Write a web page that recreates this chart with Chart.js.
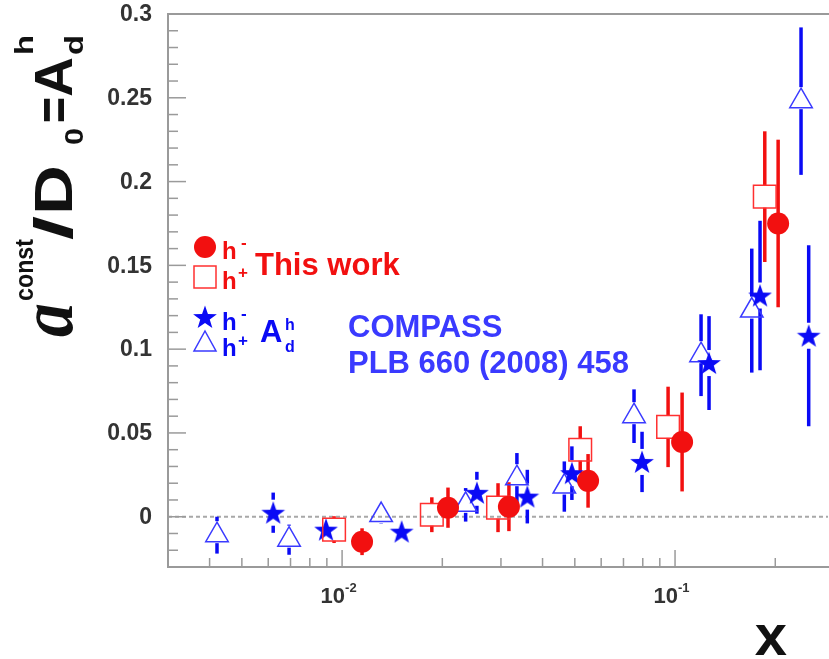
<!DOCTYPE html>
<html>
<head>
<meta charset="utf-8">
<script src="https://cdn.jsdelivr.net/npm/chart.js@4.4.0/dist/chart.umd.min.js"></script>
<style>
  html, body { margin: 0; padding: 0; background: #fff; overflow: hidden; }
  #wrap { width: 829px; height: 659px; }
</style>
</head>
<body>
<div id="wrap"><canvas id="chart" width="829" height="659"></canvas></div>
<script>
// This work, h- (filled red circles)
const workMinusX   = [0.01148, 0.0208, 0.0317, 0.0548, 0.105, 0.204];
const workMinusY   = [-0.0149, 0.0054, 0.0060, 0.0214, 0.0446, 0.175];
const workMinusErr = [0.008, 0.012, 0.0146, 0.016, 0.0295, 0.050];

// This work, h+ (open red squares)
const workPlusX   = [0.00946, 0.0186, 0.0294, 0.0519, 0.0953, 0.186];
const workPlusY   = [-0.0077, 0.0012, 0.0054, 0.040, 0.0536, 0.191];
const workPlusErr = [0.008, 0.0104, 0.0146, 0.014, 0.024, 0.039];

// COMPASS A_d^h, h- (blue stars)
const compMinusX   = [0.00621, 0.00895, 0.0151, 0.0254, 0.036, 0.049, 0.0796, 0.1265, 0.180, 0.252];
const compMinusY   = [0.0024, -0.0077, -0.0089, 0.0143, 0.012, 0.026, 0.0327, 0.0917, 0.132, 0.108];
const compMinusErr = [0.012, 0.006, 0.006, 0.0125, 0.016, 0.016, 0.018, 0.028, 0.0446, 0.054];

// COMPASS A_d^h, h+ (open blue triangles)
const compPlusX   = [0.00421, 0.00693, 0.0131, 0.0235, 0.0335, 0.0465, 0.0753, 0.1197, 0.170, 0.239];
const compPlusY   = [-0.011, -0.0137, 0.0010, 0.0071, 0.023, 0.018, 0.060, 0.0964, 0.123, 0.248];
const compPlusErr = [0.011, 0.009, 0.005, 0.010, 0.015, 0.015, 0.016, 0.0244, 0.037, 0.044];

// axis ticks
const yTicks = [0, 0.05, 0.1, 0.15, 0.2, 0.25, 0.3];
const yTickLabels = ['0', '0.05', '0.1', '0.15', '0.2', '0.25', '0.3'];
const xTicks = [0.01, 0.1];
const xTickLabels = [['10', '-2'], ['10', '-1']];

const RED = '#f21010';
const BLUE = '#0a0af5';
const BLUE_LIGHT = '#3a3aff';
const SANS = '"Liberation Sans", Arial, sans-serif';

function pts(xs, ys) {
    return xs.map((x, i) => ({ x: x, y: ys[i] }));
}

// filled five point star used as point style
function makeStar(size, color) {
    const c = document.createElement('canvas');
    c.width = size; c.height = size;
    const g = c.getContext('2d');
    const R = size / 2 - 0.5, r = R * 0.4, cx = size / 2, cy = size / 2 + 1;
    g.beginPath();
    for (let k = 0; k < 10; k++) {
        const rad = (k % 2 === 0) ? R : r;
        const a = -Math.PI / 2 + k * Math.PI / 5;
        g.lineTo(cx + rad * Math.cos(a), cy + rad * Math.sin(a));
    }
    g.closePath();
    g.fillStyle = color;
    g.fill();
    return c;
}
const starImg = makeStar(26, BLUE);

function line(ctx, x1, y1, x2, y2) {
    ctx.beginPath(); ctx.moveTo(x1, y1); ctx.lineTo(x2, y2); ctx.stroke();
}

const framePlugin = {
    id: 'frame',
    beforeDatasetsDraw(chart) {
        const { ctx, chartArea: a, scales: { x, y } } = chart;
        ctx.save();
        // dashed zero line
        ctx.strokeStyle = '#a8a8a8';
        ctx.lineWidth = 2;
        ctx.setLineDash([4, 3]);
        const y0 = y.getPixelForValue(0);
        line(ctx, a.left, y0, a.right, y0);
        ctx.setLineDash([]);

        // frame and inner ticks
        ctx.strokeStyle = '#9a9a9a';
        ctx.lineWidth = 2;
        ctx.beginPath();
        ctx.moveTo(a.right + 2, a.top);
        ctx.lineTo(a.left, a.top);
        ctx.lineTo(a.left, a.bottom);
        ctx.lineTo(a.right + 2, a.bottom);
        ctx.stroke();
        ctx.lineWidth = 1.5;
        for (let k = -3; k <= 30; k++) {
            const py = y.getPixelForValue(k / 100);
            line(ctx, a.left, py, a.left + (k % 5 === 0 ? 18 : 10), py);
        }
        for (let d = -3; d <= -1; d++) {
            for (let m = 1; m <= 9; m++) {
                const v = m * Math.pow(10, d);
                if (v < x.min || v > x.max) continue;
                const px = x.getPixelForValue(v);
                line(ctx, px, a.bottom, px, a.bottom - (m === 1 ? 17 : 9));
            }
        }

        // error bars with a gap around each marker
        chart.data.datasets.forEach((ds, i) => {
            const meta = chart.getDatasetMeta(i);
            ctx.strokeStyle = ds.errColor;
            ctx.lineWidth = 3.5;
            meta.data.forEach((pt, j) => {
                const v = ds.data[j].y, e = ds.err[j];
                const top = y.getPixelForValue(v + e);
                const bot = y.getPixelForValue(v - e);
                if (pt.y - ds.gapUp > top) line(ctx, pt.x, top, pt.x, pt.y - ds.gapUp);
                if (pt.y + ds.gapDown < bot) line(ctx, pt.x, pt.y + ds.gapDown, pt.x, bot);
            });
        });
        ctx.restore();
    },
    afterDraw(chart) {
        const { ctx, scales: { x, y } } = chart;
        ctx.save();
        // y tick labels
        ctx.fillStyle = '#333';
        ctx.font = 'bold 23px ' + SANS;
        ctx.textAlign = 'right';
        ctx.textBaseline = 'middle';
        yTicks.forEach((v, i) => ctx.fillText(yTickLabels[i], 152, y.getPixelForValue(v) + 1));
        // x tick labels 10^n
        ctx.textBaseline = 'alphabetic';
        xTicks.forEach((v, i) => {
            const px = x.getPixelForValue(v) + 3;
            ctx.font = 'bold 22px ' + SANS;
            ctx.textAlign = 'right';
            ctx.fillText(xTickLabels[i][0], px, 603);
            ctx.font = 'bold 13px ' + SANS;
            ctx.textAlign = 'left';
            ctx.fillText(xTickLabels[i][1], px, 592);
        });
        // x title
        ctx.fillStyle = '#111';
        ctx.font = 'bold 58px ' + SANS;
        ctx.textAlign = 'center';
        ctx.fillText('x', 771, 655);

        // y title: a^const/D_0=A_d^h, rotated
        ctx.translate(72, 337);
        ctx.rotate(-Math.PI / 2);
        ctx.textAlign = 'left';
        const parts = [
            { t: 'a', f: 'bold italic 76px "Liberation Serif", serif', u: 0, v: 0, w: 34 },
            { t: 'const', f: 'bold 25px ' + SANS, u: 36, v: -39, w: 62 },
            { t: '/', f: 'bold 54px ' + SANS, u: 97, v: 0, w: 24 },
            { t: 'D', f: 'bold 54px ' + SANS, u: 122, v: 0, w: 50 },
            { t: '0', f: 'bold 25px ' + SANS, u: 192, v: 11, w: 17 },
            { t: '=', f: 'bold 54px ' + SANS, u: 214, v: 0, w: 26 },
            { t: 'A', f: 'bold 54px ' + SANS, u: 240, v: 0, w: 40 },
            { t: 'h', f: 'bold 25px ' + SANS, u: 282, v: -39, w: 20 },
            { t: 'd', f: 'bold 25px ' + SANS, u: 282, v: 11, w: 20 }
        ];
        parts.forEach(p => {
            ctx.font = p.f;
            const mw = ctx.measureText(p.t).width;
            ctx.save();
            ctx.translate(p.u, p.v);
            ctx.scale(p.w / mw, 1);
            ctx.fillText(p.t, 0, 0);
            ctx.restore();
        });
        ctx.restore();

        // legend
        ctx.save();
        ctx.fillStyle = RED;
        ctx.beginPath(); ctx.arc(205, 247, 11, 0, Math.PI * 2); ctx.fill();
        ctx.strokeStyle = '#ff3030';
        ctx.lineWidth = 1.5;
        ctx.strokeRect(194, 266, 22, 22);
        ctx.font = 'bold 24px ' + SANS;
        ctx.fillText('h', 222, 259);
        ctx.fillText('h', 222, 289);
        ctx.font = 'bold 17px ' + SANS;
        ctx.fillText('-', 241, 248);
        ctx.fillText('+', 238, 278);
        ctx.font = 'bold 31px ' + SANS;
        ctx.fillText('This work', 255, 275);

        ctx.drawImage(starImg, 192, 304);
        ctx.strokeStyle = BLUE_LIGHT;
        ctx.lineWidth = 1.5;
        ctx.beginPath();
        ctx.moveTo(205, 331); ctx.lineTo(216, 351); ctx.lineTo(194, 351); ctx.closePath();
        ctx.stroke();
        ctx.fillStyle = BLUE;
        ctx.font = 'bold 24px ' + SANS;
        ctx.fillText('h', 222, 330);
        ctx.fillText('h', 222, 356);
        ctx.font = 'bold 17px ' + SANS;
        ctx.fillText('-', 241, 319);
        ctx.fillText('+', 238, 346);
        ctx.font = 'bold 31px ' + SANS;
        ctx.fillText('A', 260, 342);
        ctx.font = 'bold 16px ' + SANS;
        ctx.fillText('h', 285, 330);
        ctx.fillText('d', 285, 352);

        ctx.fillStyle = BLUE_LIGHT;
        ctx.font = 'bold 31px ' + SANS;
        ctx.fillText('COMPASS', 348, 337);
        ctx.fillText('PLB 660 (2008) 458', 348, 373);
        ctx.restore();
    }
};

new Chart(document.getElementById('chart').getContext('2d'), {
    type: 'scatter',
    data: {
        datasets: [
            {
                label: 'h- this work',
                data: pts(workMinusX, workMinusY),
                err: workMinusErr, errColor: RED, gapUp: 10, gapDown: 10,
                pointStyle: 'circle', pointRadius: 11,
                backgroundColor: RED, borderColor: RED, borderWidth: 0,
                order: 1
            },
            {
                label: 'h+ this work',
                data: pts(workPlusX, workPlusY),
                err: workPlusErr, errColor: RED, gapUp: 11, gapDown: 11,
                pointStyle: 'rect', pointRadius: 16,
                backgroundColor: 'rgba(0,0,0,0)', borderColor: '#ff3030', borderWidth: 1.5,
                order: 2
            },
            {
                label: 'h- COMPASS',
                data: pts(compMinusX, compMinusY),
                err: compMinusErr, errColor: BLUE, gapUp: 13, gapDown: 13,
                pointStyle: starImg, pointRadius: 13,
                backgroundColor: BLUE, borderColor: BLUE,
                order: 3
            },
            {
                label: 'h+ COMPASS',
                data: pts(compPlusX, compPlusY),
                err: compPlusErr, errColor: BLUE, gapUp: 14, gapDown: 8,
                pointStyle: 'triangle', pointRadius: 13,
                backgroundColor: 'rgba(0,0,0,0)', borderColor: BLUE_LIGHT, borderWidth: 1.5,
                order: 4
            }
        ]
    },
    options: {
        responsive: false,
        animation: false,
        events: [],
        layout: { autoPadding: false, padding: { left: 168, right: 1, top: 14, bottom: 92 } },
        plugins: {
            legend: { display: false },
            tooltip: { enabled: false },
            title: { display: false }
        },
        scales: {
            x: { type: 'logarithmic', display: false, min: 0.003, max: 0.288 },
            y: { type: 'linear', display: false, min: -0.03, max: 0.3 }
        }
    },
    plugins: [framePlugin]
});
</script>
</body>
</html>
